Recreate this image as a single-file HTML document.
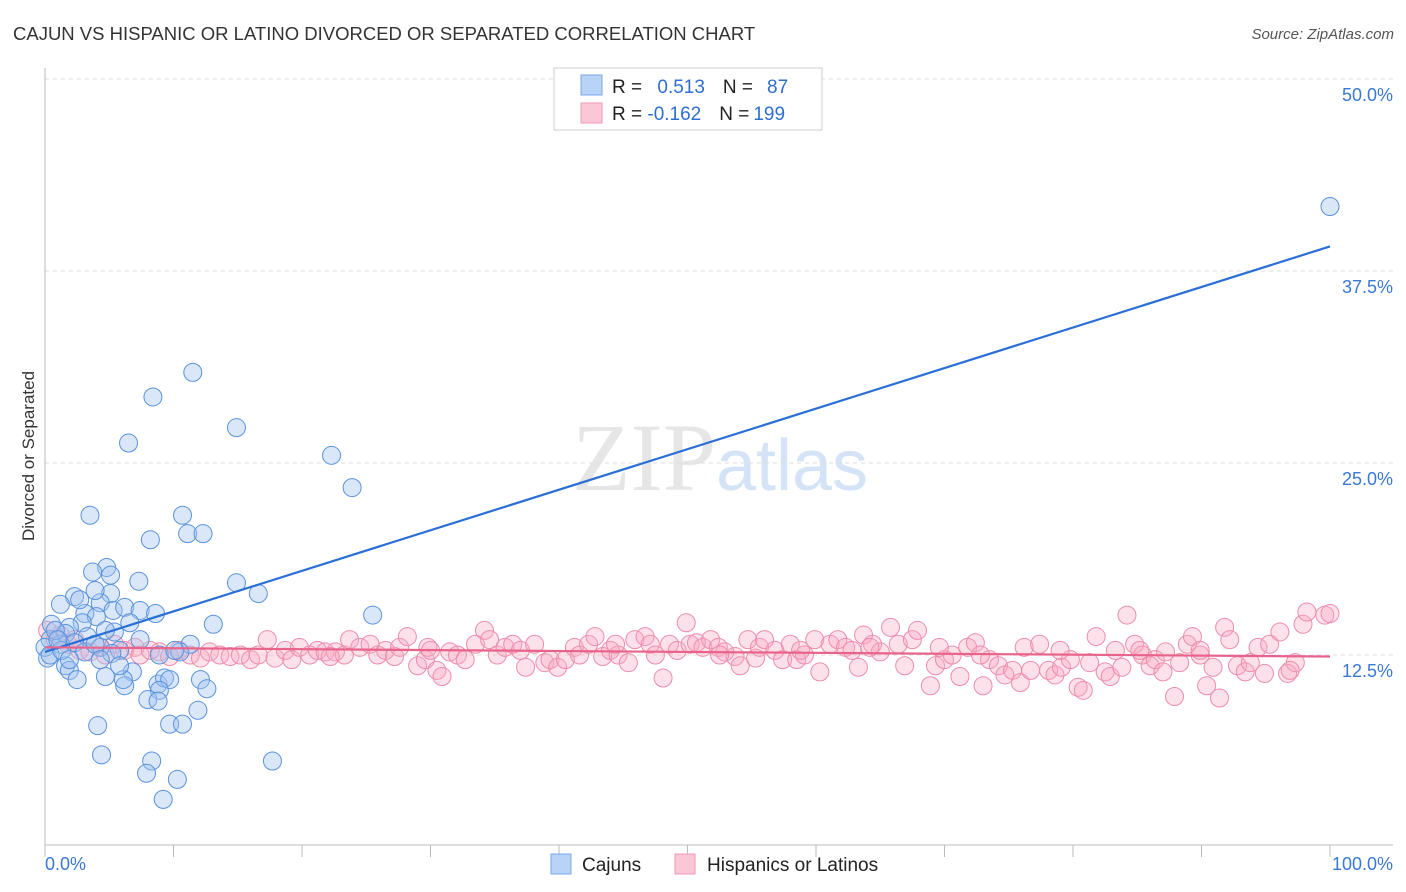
<!DOCTYPE html>
<html><head><meta charset="utf-8"><style>
body{margin:0;background:#fff;font-family:"Liberation Sans",sans-serif}
svg{display:block}
</style></head><body>
<svg id="chart" width="1406" height="892" xmlns="http://www.w3.org/2000/svg" font-family="Liberation Sans, sans-serif">
<text x="13" y="40" font-size="18.5" fill="#333">CAJUN VS HISPANIC OR LATINO DIVORCED OR SEPARATED CORRELATION CHART</text>
<text x="1394" y="39" font-size="15" fill="#555" text-anchor="end" font-style="italic">Source: ZipAtlas.com</text>
<text x="720" y="490" font-size="96" text-anchor="middle" fill="#e6e6e6" font-family="Liberation Serif, serif">ZIP<tspan fill="#d4e3f5" font-family="Liberation Sans, sans-serif" font-size="72">atlas</tspan></text>
<g id="grid"></g>
<g id="axes"></g>
<g id="pink"></g>
<g id="blue"></g>
<g id="trends"></g>
<text transform="translate(34,456) rotate(-90)" font-size="17" fill="#333" text-anchor="middle">Divorced or Separated</text>
<g>
<rect x="554" y="68" width="268" height="62" fill="#fff" stroke="#ccc"/>
<rect x="581" y="75" width="21" height="20" fill="#b8d3f5" stroke="#7aa8e6"/>
<rect x="581" y="103" width="21" height="20" fill="#fbc7d6" stroke="#ee9ab3"/>
<text x="612" y="93" font-size="19" fill="#222">R = <tspan fill="#2f6fd0" dx="10">0.513</tspan><tspan dx="18" fill="#222">N =</tspan><tspan dx="14" fill="#2f6fd0">87</tspan></text>
<text x="612" y="120" font-size="19" fill="#222">R = <tspan fill="#2f6fd0">-0.162</tspan><tspan dx="18" fill="#222">N =</tspan><tspan dx="4" fill="#2f6fd0">199</tspan></text>
</g>
<g>
<rect x="551" y="854" width="20" height="20" fill="#b8d3f5" stroke="#7aa8e6"/>
<text x="582" y="871" font-size="19" fill="#222">Cajuns</text>
<rect x="675" y="854" width="20" height="20" fill="#fbc7d6" stroke="#ee9ab3"/>
<text x="707" y="871" font-size="19" fill="#222">Hispanics or Latinos</text>
</g>
</svg>
<script>
const yTicks=[12.5,25,37.5,50];
const yTickLabels=["12.5%","25.0%","37.5%","50.0%"];
const xTickLabels=["0.0%","100.0%"];
const blueX=[11.5,8.4,6.5,14.9,22.3,23.9,3.5,10.7,8.2,11.1,12.3,4.8,3.7,7.3,14.9,16.6,2.3,5.1,1.2,3.1,4.3,5.3,6.2,7.4,8.6,4.0,25.5,2.9,1.9,0.5,13.1,5.4,3.3,1.6,0.4,1.2,2.3,4.3,5.8,11.3,10.5,5.2,0.2,1.6,1.9,2.5,4.7,6.8,6.2,6.1,8.8,9.3,9.7,8.9,12.1,12.6,8.0,8.8,11.9,4.1,9.7,10.7,4.4,8.3,7.9,10.3,9.2,17.7,100,0.8,0,0.4,1.3,3.1,3.9,4.7,6.6,2.7,3.9,5.1,5.8,7.4,8.9,10.1,4.3,1.9,1.0];
const blueY=[30.9,29.3,26.3,27.3,25.5,23.4,21.6,21.6,20.0,20.4,20.4,18.2,17.9,17.3,17.2,16.5,16.3,16.5,15.8,15.2,15.9,15.4,15.6,15.4,15.2,15.0,15.1,14.6,14.3,14.5,14.5,14.0,13.7,13.9,13.5,13.2,13.3,13.0,12.8,13.2,12.7,12.6,12.3,11.8,11.5,10.9,11.1,11.4,10.5,10.9,10.6,11.0,10.9,10.2,10.9,10.3,9.6,9.5,8.9,7.9,8.0,8.0,6.0,5.6,4.8,4.4,3.1,5.6,41.7,14.1,13.0,12.5,12.8,12.7,13.2,14.1,14.6,16.1,16.7,17.7,11.8,13.5,12.5,12.8,12.2,12.2,13.5];
const pinkX=[0.2,0.8,1.2,1.8,2.3,2.7,3.5,4.3,4.7,5.4,6.2,7.0,7.4,8.2,8.9,9.7,10.4,11.3,12.1,12.8,13.6,14.4,15.2,16.0,16.6,17.3,17.9,18.7,19.2,19.8,20.6,21.2,21.8,22.6,23.3,23.7,24.5,25.3,25.9,26.5,27.2,27.6,28.2,29.0,29.6,29.8,30.5,30.9,31.5,32.1,32.7,33.5,34.2,34.6,35.2,35.8,36.4,37.0,37.4,38.1,38.9,39.3,39.9,40.5,41.2,41.6,42.3,42.8,43.4,44.0,44.6,45.4,45.9,46.7,47.1,47.5,48.1,48.6,49.2,49.9,50.2,50.7,51.2,51.8,52.4,52.9,53.7,54.1,54.7,55.3,55.6,56.0,56.8,57.4,58.0,58.5,59.1,59.9,60.3,61.1,61.7,62.3,62.8,63.3,63.7,64.4,65.0,65.8,66.4,66.9,67.5,67.9,68.9,69.3,70.0,70.6,71.2,71.8,72.4,73.0,73.5,74.2,74.7,75.3,75.9,76.2,76.7,77.4,78.1,78.6,79.1,79.8,80.4,80.8,81.3,81.8,82.5,82.9,83.3,83.8,84.2,84.8,85.4,86.0,86.4,87.0,87.2,87.9,88.3,88.9,89.3,89.9,90.4,90.9,91.4,91.8,92.2,92.8,93.4,93.8,94.4,94.9,95.3,96.1,96.7,97.3,97.9,98.2,99.6,100,96.9,89.9,85.2,79.0,72.8,69.6,64.2,58.8,52.5,44.4,30.0,22.2];
const pinkY=[14.1,13.5,13.8,13.2,13.5,12.8,12.7,13.0,12.5,13.2,12.8,13.0,12.5,12.8,12.7,12.4,12.8,12.5,12.3,12.7,12.5,12.4,12.5,12.2,12.5,13.5,12.3,12.8,12.2,13.0,12.5,12.8,12.7,12.7,12.5,13.5,13.0,13.2,12.5,12.8,12.4,13.0,13.7,11.8,12.2,13.0,11.5,11.1,12.7,12.5,12.2,13.2,14.1,13.5,12.5,13.0,13.2,12.8,11.7,13.2,12.0,12.2,11.7,12.2,13.0,12.5,13.2,13.7,12.4,12.8,12.5,12.0,13.5,13.7,13.2,12.5,11.0,13.2,12.8,14.6,13.2,13.3,13.0,13.5,13.0,12.7,12.4,11.8,13.5,12.3,13.0,13.5,12.8,12.2,13.2,12.2,12.5,13.5,11.4,13.2,13.5,13.0,12.8,11.7,13.8,13.2,12.7,14.3,13.2,11.8,13.5,14.1,10.5,11.8,12.2,12.5,11.1,13.0,13.3,10.5,12.2,11.8,11.2,11.5,10.7,13.0,11.5,13.2,11.5,11.2,11.7,12.2,10.4,10.2,12.0,13.7,11.4,11.1,12.8,11.7,15.1,13.2,12.5,11.8,12.2,11.4,12.7,9.8,12.0,13.2,13.7,12.5,10.5,11.7,9.7,14.3,13.5,11.8,11.4,12.0,13.0,11.3,13.2,14.0,11.3,12.0,14.5,15.3,15.1,15.2,11.5,12.8,12.8,12.8,12.5,13.0,13.0,12.8,12.5,13.2,12.8,12.4];
const blueTrend=[12.7,39.1];
const pinkTrend=[13.0,12.4];
const NS="http://www.w3.org/2000/svg";
const X0=45,X1=1330,Y0=847,PXPER=15.36;
function sx(v){return X0+(X1-X0)*v/100;}
function sy(v){return Y0-v*PXPER;}
function mk(tag,attrs,parent){const e=document.createElementNS(NS,tag);for(const k in attrs)e.setAttribute(k,attrs[k]);parent.appendChild(e);return e;}
const grid=document.getElementById('grid'),axes=document.getElementById('axes');
yTicks.forEach((t,i)=>{
  const l=mk('line',{x1:45,x2:1393,y1:sy(t),y2:sy(t),stroke:'#ddd','stroke-dasharray':'4,4'},grid);
  
  
  const tx=mk('text',{x:1393,y:sy(t)+22,'font-size':18,fill:'#3a78d4','text-anchor':'end'},axes);
  tx.textContent=yTickLabels[i];
  
  
});
const ax=mk('line',{x1:45,x2:1393,y1:845,y2:845,stroke:'#bbb'},axes);


const ay=mk('line',{x1:45,x2:45,y1:68,y2:845,stroke:'#bbb'},axes);


for(let i=0;i<=10;i++){
  const t=mk('line',{x1:sx(i*10),x2:sx(i*10),y1:845,y2:857,stroke:'#bbb'},axes);
  
  
}
const xl0=mk('text',{x:45,y:870,'font-size':18,fill:'#3a78d4'},axes);
xl0.textContent=xTickLabels[0];


const xl1=mk('text',{x:1393,y:870,'font-size':18,fill:'#3a78d4','text-anchor':'end'},axes);
xl1.textContent=xTickLabels[1];


const pg=document.getElementById('pink');
pinkX.forEach((x,i)=>{
  const c=mk('circle',{cx:sx(x),cy:sy(pinkY[i]),r:9,fill:'rgba(248,170,195,0.35)',stroke:'#ec8dab','stroke-width':1},pg);
  
  
});
const bg=document.getElementById('blue');
blueX.forEach((x,i)=>{
  const c=mk('circle',{cx:sx(x),cy:sy(blueY[i]),r:9,fill:'rgba(160,195,240,0.4)',stroke:'#5a92dc','stroke-width':1},bg);
  
  
});
const tg=document.getElementById('trends');
const bl=mk('line',{x1:sx(0),y1:sy(blueTrend[0]),x2:sx(100),y2:sy(blueTrend[1]),stroke:'#2a6fd6','stroke-width':2.2},tg);


const pl=mk('line',{x1:sx(0),y1:sy(pinkTrend[0]),x2:sx(100),y2:sy(pinkTrend[1]),stroke:'#e8638c','stroke-width':2.2},tg);


</script>
</body></html>
